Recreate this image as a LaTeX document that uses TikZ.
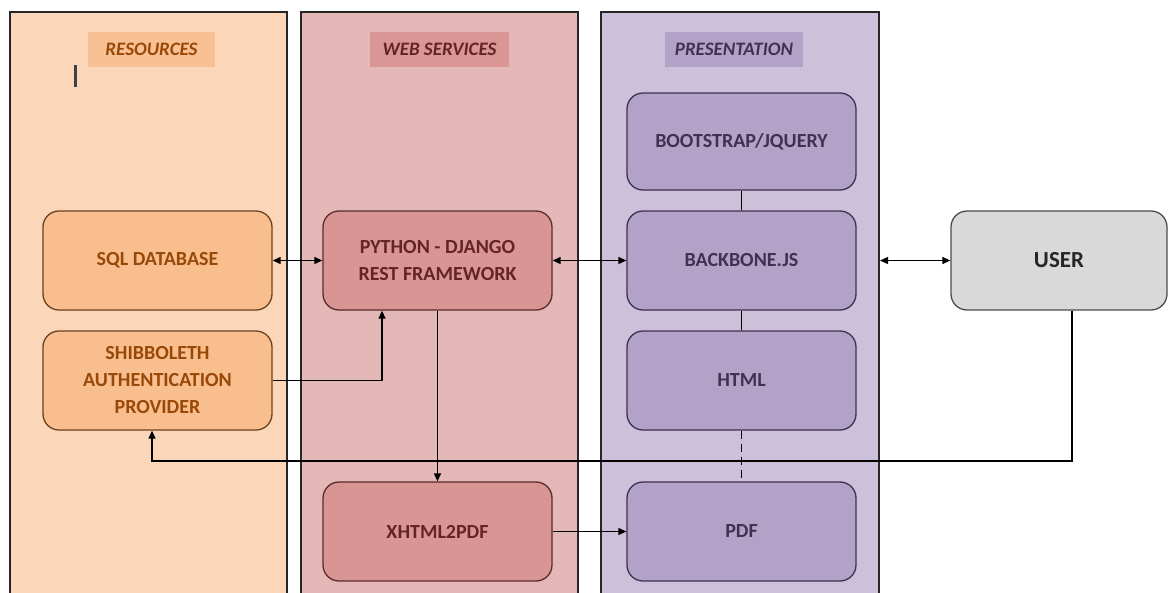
\documentclass[tikz,border=0pt]{standalone}
\usepackage{fontspec}
\setmainfont{Carlito}
\usetikzlibrary{arrows.meta}

\definecolor{resback}{HTML}{FBD6B8}
\definecolor{reshead}{HTML}{F9C094}
\definecolor{resfill}{HTML}{F9BE8E}
\definecolor{restext}{HTML}{984807}
\definecolor{resline}{HTML}{6B4220}
\definecolor{webback}{HTML}{E5B8B8}
\definecolor{webhead}{HTML}{D99694}
\definecolor{webfill}{HTML}{D99594}
\definecolor{webtext}{HTML}{632523}
\definecolor{webline}{HTML}{5C2A2A}
\definecolor{presback}{HTML}{CCC0DA}
\definecolor{preshead}{HTML}{B3A2C7}
\definecolor{presfill}{HTML}{B3A2C8}
\definecolor{prestext}{HTML}{403152}
\definecolor{presline}{HTML}{3F3151}
\definecolor{userfill}{HTML}{D9D9D9}
\definecolor{usertext}{HTML}{262626}

\tikzset{
  panel/.style={draw=black!85,line width=1.5pt},
  headbox/.style={minimum height=35pt,font=\fontsize{19}{22}\selectfont\bfseries\itshape},
  box/.style={draw,rounded corners=16pt,line width=1.3pt,minimum width=229pt,
    minimum height=99pt,align=center,font=\fontsize{20}{27}\selectfont\bfseries},
  resbox/.style={box,fill=resfill,draw=resline,text=restext},
  webbox/.style={box,fill=webfill,draw=webline,text=webtext},
  presbox/.style={box,fill=presfill,draw=presline,text=prestext},
  userbox/.style={box,fill=userfill,draw=black!70,text=usertext,font=\fontsize{23}{27}\selectfont\bfseries},
  link/.style={line width=1.3pt,-{Triangle[length=8pt,width=7pt]}},
  twoway/.style={line width=1.3pt,{Triangle[length=8pt,width=7pt]}-{Triangle[length=8pt,width=7pt]}}
}

\begin{document}
\begin{tikzpicture}[x=1pt,y=-1pt]
  \useasboundingbox (0,0) rectangle (1169,592);
  \clip (0,0) rectangle (1169,592);
  % columns
  \draw[panel,fill=resback] (10,12) rectangle (287,610);
  \draw[panel,fill=webback] (301,12) rectangle (578,610);
  \draw[panel,fill=presback] (601,12) rectangle (879,610);
  \node[headbox,fill=reshead,text=restext,minimum width=127pt] (reshd) at (151.5,49.5) {RESOURCES};
  \node[headbox,fill=webhead,text=webtext,minimum width=139pt] (webhd) at (439.5,49.5) {WEB SERVICES};
  \node[headbox,fill=preshead,text=prestext,minimum width=138pt] (preshd) at (734,49.5) {PRESENTATION};
  \draw[line width=3pt,black!75] (75.5,65) -- (75.5,87);
  % boxes
  \node[resbox] (sql) at (157.5,260.5) {SQL DATABASE};
  \node[resbox] (shib) at (157.5,380.5) {SHIBBOLETH\\AUTHENTICATION\\PROVIDER};
  \node[webbox] (django) at (437.5,260.5) {PYTHON - DJANGO\\REST FRAMEWORK};
  \node[webbox] (xhtml) at (437.5,531.5) {XHTML2PDF};
  \node[presbox,minimum height=97pt] (boot) at (741.5,141.5) {BOOTSTRAP/JQUERY};
  \node[presbox] (backbone) at (741.5,260.5) {BACKBONE.JS};
  \node[presbox] (html) at (741.5,380.5) {HTML};
  \node[presbox] (pdf) at (741.5,531.5) {PDF};
  \node[userbox,minimum width=216pt] (user) at (1059,260.5) {USER};
  \coordinate (presedge) at (880,260.5);
  % connectors
  \draw[twoway] (sql) -- (django);
  \draw[twoway] (django) -- (backbone);
  \draw[twoway] (presedge) -- (user);
  \draw[link] (shib.east) -| ([xshift=-55.5pt]django.south);
  \draw[link] (django) -- (xhtml);
  \draw[link] (xhtml) -- (pdf);
  \draw[link] ([xshift=13pt]user.south) |- (152,461) -- ([xshift=-5.5pt]shib.south);
  \draw[line width=1.3pt] (boot) -- (backbone);
  \draw[line width=1.3pt] (backbone) -- (html);
  \draw[line width=1.3pt,dash pattern=on 8pt off 5pt] (html) -- (pdf);
\end{tikzpicture}
\end{document}
